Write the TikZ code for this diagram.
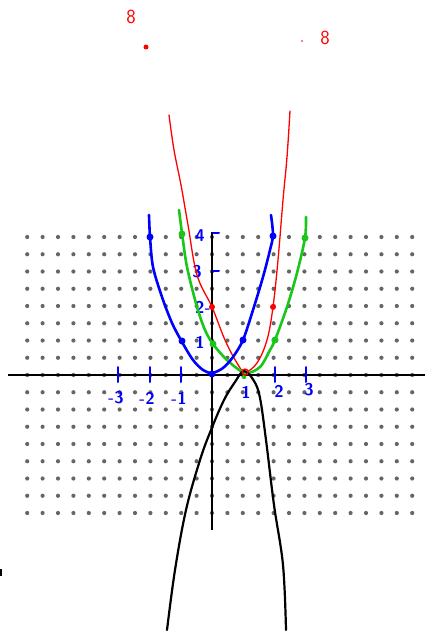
\documentclass[tikz,border=0pt]{standalone}
\begin{document}
\begin{tikzpicture}[x=1pt,y=-1pt,
  griddot/.style={fill=black!60},
  axisline/.style={line width=2pt,black},
  bluecurve/.style={line width=2.6pt,blue,line cap=round,line join=round},
  greencurve/.style={line width=2.6pt,green!75!black!90!white,line cap=round,line join=round},
  redcurve/.style={line width=1.3pt,red,line cap=round,line join=round},
  blackcurve/.style={line width=2.2pt,black,line cap=round,line join=round},
  bluelbl/.style={text=blue,font=\sffamily\bfseries\fontsize{17}{17}\selectfont,inner sep=0pt},
  redlbl/.style={text=red,font=\sffamily\fontsize{20}{20}\selectfont,inner sep=0pt},
  bluetick/.style={line width=2pt,blue,line cap=round}]
\useasboundingbox (0,0) rectangle (425,635);
\fill[white] (0,0) rectangle (425,635);
% dot grid
\foreach \i in {-12,...,13}{
  \foreach \j in {-8,...,8}{
    \fill[griddot] ({212+15.4*\i},{375+17.25*\j}) circle (2.1pt);
  }
}
% axes
\coordinate (xl) at (8,375);
\coordinate (xr) at (425,375);
\coordinate (yt) at (212,232);
\coordinate (yb) at (212,530);
\draw[axisline] (xl) -- (xr);
\draw[axisline] (yt) -- (yb);
% x ticks
\foreach \x in {118,150,181,275,306}{
  \draw[bluetick] (\x,367) -- (\x,382);
}
% y ticks
\foreach \y in {233,271}{
  \draw[bluetick] (213,\y) -- (219,\y);
}
% labels
\node[bluelbl] (lm3) at (116,398) {-3};
\node[bluelbl] (lm2) at (147,398) {-2};
\node[bluelbl] (lm1) at (179,398) {-1};
\node[bluelbl] (lp1) at (246,392) {1};
\node[bluelbl] (lp2) at (279,391) {2};
\node[bluelbl] (lp3) at (309,390) {3};
\node[bluelbl] (ly4) at (200,236) {4};
\node[bluelbl] (ly3) at (197,272) {3};
\node[bluelbl] (ly2) at (203,307) {2-};
\node[bluelbl] (ly1) at (200,342) {1};
% red curve
\draw[redcurve] plot[smooth,tension=0.6] coordinates {(169,115) (174,150) (181,185) (188,225) (197,275) (212,307) (225,340) (237,363) (245,372) (257,363) (267,340) (273,307) (278,260) (283,200) (287,157) (290,111)};
% green curve
\draw[greencurve] plot[smooth] coordinates {(179,210) (182,233) (187,267) (197,307) (205,330) (213,344) (227,360) (245,373) (260,367) (270,350) (275,340) (287,307) (297,273) (305,238) (306,217)};
% blue curve
\draw[bluecurve] plot[smooth] coordinates {(149,215) (150,237) (153,267) (162,297) (172,323) (182,342) (193,360) (203,370) (212,373) (223,368) (233,357) (243,340) (253,310) (263,277) (270,250) (273,235) (271,215)};
% black curve
\draw[blackcurve] plot[smooth,tension=0.6] coordinates {(167,630) (175,570) (186,510) (200,460) (211,430) (224,400) (235,382) (244,371) (254,381) (260,398) (266,440) (274,505) (283,565) (286,630)};
% points
\fill[blue] (150,237) circle (3.5pt);
\fill[blue] (182,341) circle (3.5pt);
\fill[blue] (212,374) circle (3.5pt);
\fill[blue] (243,340) circle (3.5pt);
\fill[blue] (273,236) circle (3.5pt);
\fill[green!75!black!90!white] (182,234) circle (3.5pt);
\fill[green!75!black!90!white] (213,344) circle (3.5pt);
\fill[green!75!black!90!white] (275,340) circle (3.5pt);
\fill[green!75!black!90!white] (305,238) circle (3.5pt);
\fill[green!75!black!90!white] (244,377) circle (2.2pt);
\fill[red] (212,307) circle (3pt);
\fill[red] (273,307) circle (3pt);
\draw[red,line width=1.3pt] (245,372) circle (3pt);
% top red marks
\node[redlbl] (r8a) at (131,17) {8};
\node[redlbl] (r8b) at (325,38) {8};
\fill[red] (146,47) circle (2.5pt);
\fill[red] (302,41) circle (0.8pt);
% left edge mark
\fill[black] (0,569) rectangle (2,576);
\end{tikzpicture}
\end{document}
